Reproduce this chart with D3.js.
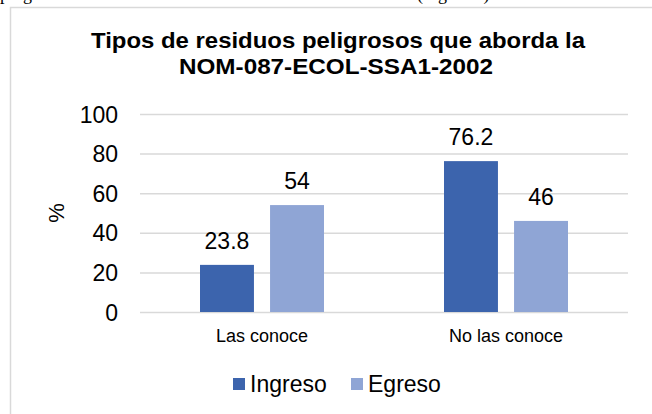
<!DOCTYPE html>
<html>
<head>
<meta charset="utf-8">
<script src="https://cdn.jsdelivr.net/npm/d3@7"></script>
<style>
  body { margin: 0; background: #fff; }
  svg { display: block; font-family: "Liberation Sans", Arial, sans-serif; }
</style>
</head>
<body>
<svg id="chart" width="652" height="414"></svg>
<script>
const categories = ['Las conoce', 'No las conoce'];
const series = ['Ingreso', 'Egreso'];
const ingreso = [23.8, 76.2];
const egreso = [54, 46];
const yTicks = [0, 20, 40, 60, 80, 100];
const colors = ['#3c64ad', '#8fa5d5'];

const svg = d3.select('#chart');

// texto del documento cortado arriba
svg.append('text').attr('x', 0).attr('y', 0)
  .style('font-family', '"Liberation Serif", serif').style('font-size', '18px')
  .text('pregunta');
svg.append('text').attr('x', 417).attr('y', 0)
  .style('font-family', '"Liberation Serif", serif').style('font-size', '18px')
  .text('(Figura 2)');

// marco del gráfico
svg.append('rect')
  .attr('x', 10.5).attr('y', 7.5).attr('width', 700).attr('height', 500)
  .attr('fill', 'none').attr('stroke', '#d9d9d9').attr('stroke-width', 1.5);

const title = svg.append('text').attr('text-anchor', 'middle')
  .style('font-size', '22.5px').style('font-weight', 'bold').attr('fill', '#000');
title.append('tspan').attr('x', 338).attr('y', 48)
  .attr('textLength', 494).attr('lengthAdjust', 'spacingAndGlyphs')
  .text('Tipos de residuos peligrosos que aborda la');
title.append('tspan').attr('x', 336).attr('y', 74)
  .attr('textLength', 314).attr('lengthAdjust', 'spacingAndGlyphs')
  .text('NOM-087-ECOL-SSA1-2002');

const plot = {left: 140, right: 628, top: 114, bottom: 312};

const y = d3.scaleLinear().domain([0, 100]).range([plot.bottom, plot.top]);
const x0 = d3.scaleBand().domain(categories).range([plot.left, plot.right]);
const x1 = d3.scaleBand().domain(series).range([60, 184]).paddingInner(0.23);

const yAxis = svg.append('g')
  .attr('transform', `translate(${plot.left},0)`)
  .call(d3.axisLeft(y).tickValues(yTicks).tickSize(-(plot.right - plot.left)).tickPadding(22));
yAxis.select('.domain').remove();
yAxis.selectAll('line').attr('stroke', '#d9d9d9').attr('stroke-width', 1.5);
yAxis.selectAll('text').style('font-size', '23px').attr('fill', '#000')
  .attr('font-family', '"Liberation Sans", Arial, sans-serif').attr('dy', '0.35em');

svg.append('text')
  .attr('transform', `translate(64,${(plot.top + plot.bottom) / 2}) rotate(-90)`)
  .attr('text-anchor', 'middle').style('font-size', '22px').text('%');

const rows = categories.map((c, i) => ({
  category: c,
  values: [
    {series: 'Ingreso', value: ingreso[i], color: colors[0]},
    {series: 'Egreso', value: egreso[i], color: colors[1]},
  ],
}));

const groups = svg.selectAll('g.group').data(rows).join('g')
  .attr('class', 'group')
  .attr('transform', (d) => `translate(${x0(d.category)},0)`);

groups.selectAll('rect').data((d) => d.values).join('rect')
  .attr('x', (d) => x1(d.series))
  .attr('y', (d) => y(d.value))
  .attr('width', x1.bandwidth())
  .attr('height', (d) => y(0) - y(d.value))
  .attr('fill', (d) => d.color);

groups.selectAll('text.value').data((d) => d.values).join('text')
  .attr('class', 'value')
  .attr('x', (d) => x1(d.series) + x1.bandwidth() / 2)
  .attr('y', (d) => y(d.value) - 16)
  .attr('text-anchor', 'middle').style('font-size', '23px')
  .text((d) => d.value);

// eje de categorías
const xAxis = svg.append('g')
  .attr('transform', `translate(0,${plot.bottom})`)
  .call(d3.axisBottom(x0).tickSize(0).tickPadding(17));
xAxis.select('.domain').remove();
xAxis.selectAll('text').style('font-size', '18px').attr('fill', '#000')
  .attr('font-family', '"Liberation Sans", Arial, sans-serif');

// leyenda
const legendX = [233, 351];
const legend = svg.selectAll('g.legend').data(series).join('g')
  .attr('class', 'legend')
  .attr('transform', (d, i) => `translate(${legendX[i]},378)`);
legend.append('rect').attr('width', 12).attr('height', 12)
  .attr('fill', (d, i) => colors[i]);
legend.append('text').attr('x', 17).attr('y', 14)
  .style('font-size', '23px').text((d) => d);
</script>
</body>
</html>
